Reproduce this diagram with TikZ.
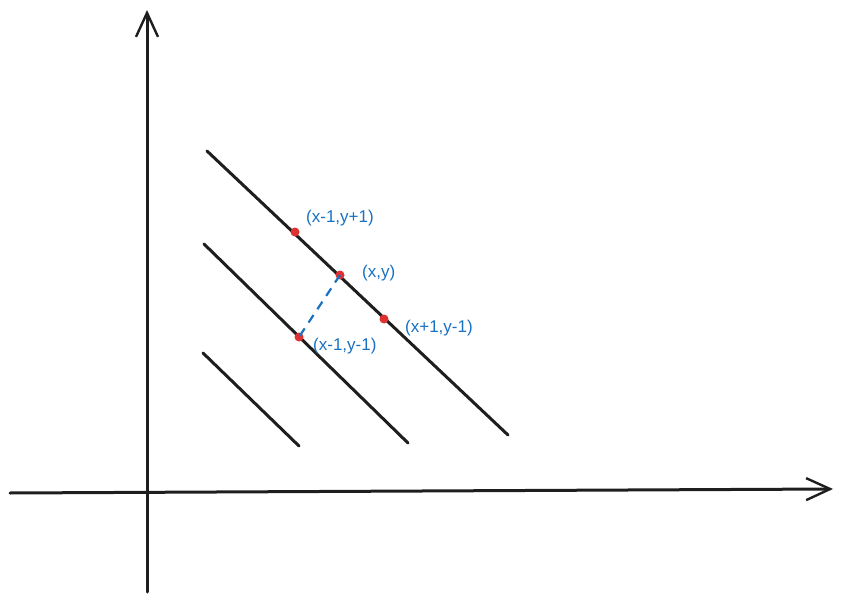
\documentclass[tikz,border=0pt]{standalone}
\usepackage{fontspec}
\setmainfont{Liberation Sans}
\usetikzlibrary{arrows.meta}
\definecolor{exblue}{HTML}{1971C2}
\definecolor{exred}{HTML}{E03131}
\definecolor{exblack}{HTML}{1E1E1E}
\begin{document}
\begin{tikzpicture}[x=1pt,y=-1pt,
  axis/.style={draw=exblack,line width=3pt,line cap=round,-{Straight Barb[length=24pt,width=22pt,line width=2.4pt]}},
  diag/.style={draw=exblack,line width=3pt,line cap=round},
  pt/.style={circle,fill=exred,inner sep=0pt,minimum size=9pt},
  lbl/.style={text=exblue,font=\fontsize{17}{19}\selectfont,inner sep=0pt,anchor=west}]
\useasboundingbox (0,0) rectangle (843,604);
% axes
\coordinate (yb) at (147,592);
\coordinate (yt) at (147,10);
\coordinate (xl) at (10,493);
\coordinate (xr) at (833,489);
\draw[axis] (yb) -- (yt);
\draw[axis] (xl) -- (xr);
% diagonal lines
\coordinate (a1) at (207,151); \coordinate (a2) at (508,435);
\coordinate (b1) at (204,244); \coordinate (b2) at (408,443);
\coordinate (c1) at (203,353); \coordinate (c2) at (299,446);
\draw[diag] (a1) -- (a2);
\draw[diag] (b1) -- (b2);
\draw[diag] (c1) -- (c2);
% points
\node[pt] (p1) at (295,232) {};
\node[pt] (p2) at (340,275) {};
\node[pt] (p3) at (384,319) {};
\node[pt] (p4) at (299,337) {};
\draw[exblue,line width=2.2pt,dash pattern=on 9pt off 7pt] (p2.center) -- (p4.center);
% labels
\node[lbl] (l1) at (306,218) {(x-1,y+1)};
\node[lbl] (l2) at (362,273) {(x,y)};
\node[lbl] (l3) at (405,328) {(x+1,y-1)};
\node[lbl] (l4) at (313,346) {(x-1,y-1)};
\end{tikzpicture}
\end{document}
